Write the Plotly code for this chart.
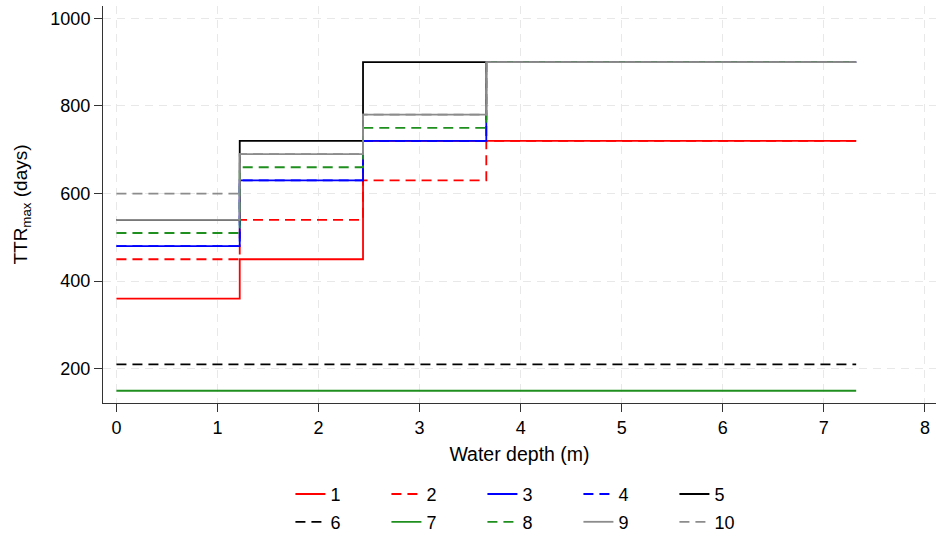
import plotly.graph_objects as go

depth = [0, 1.22, 2.44, 3.66, 7.32]
names = ["1", "2", "3", "4", "5", "6", "7", "8", "9", "10"]
s1 = [360, 450, 720, 720, 720]
s2 = [450, 540, 630, 720, 720]
s3 = [480, 630, 720, 900, 900]
s4 = [480, 630, 720, 900, 900]
s5 = [540, 720, 900, 900, 900]
s6 = [210, 210, 210, 210, 210]
s7 = [150, 150, 150, 150, 150]
s8 = [510, 660, 750, 900, 900]
s9 = [540, 690, 780, 900, 900]
s10 = [600, 690, 780, 900, 900]
series = [s1, s2, s3, s4, s5, s6, s7, s8, s9, s10]

colors = ["#ff0000", "#ff0000", "#0000ff", "#0000ff", "#000000",
          "#000000", "#1f8f1f", "#1f8f1f", "#8c8c8c", "#8c8c8c"]
dashes = ["solid", "10px,6px", "solid", "10px,6px", "solid",
          "10px,6px", "solid", "10px,6px", "solid", "10px,6px"]

fig = go.Figure()
for i, (nm, ys) in enumerate(zip(names, series)):
    fig.add_trace(go.Scatter(
        x=depth, y=ys, mode="lines", name=nm,
        line=dict(color=colors[i], dash=dashes[i], width=1.8, shape="hv"),
        legend="legend" if i < 5 else "legend2",
    ))

font = "Liberation Sans, Arial, sans-serif"
grid = dict(showgrid=True, gridcolor="#e8e8e8", gridwidth=1, griddash="8px,6px",
            zeroline=False, showline=True, linecolor="#333333", linewidth=1,
            ticks="outside", ticklen=8, tickcolor="#333333",
            tickfont=dict(family=font, size=18, color="#000"))

fig.update_layout(
    width=936, height=539,
    margin=dict(l=103, r=0, t=6, b=136, autoexpand=False),
    plot_bgcolor="white", paper_bgcolor="white",
    font=dict(family=font, size=18, color="#000"),
    xaxis=dict(range=[-0.133, 8.11], tickvals=[0, 1, 2, 3, 4, 5, 6, 7, 8],
               title=dict(text="Water depth (m)", font=dict(size=19.5), standoff=10), **grid),
    yaxis=dict(range=[122, 1028], tickvals=[200, 400, 600, 800, 1000],
               title=dict(text="TTR<sub>max</sub> (days)", font=dict(size=19), standoff=17), **grid),
    legend=dict(orientation="h", x=0.225, xanchor="left", y=-0.23, yanchor="middle",
                entrywidth=51, entrywidthmode="pixels",
                font=dict(family=font, size=18), bgcolor="rgba(0,0,0,0)"),
    legend2=dict(orientation="h", x=0.225, xanchor="left", y=-0.30, yanchor="middle",
                 entrywidth=51, entrywidthmode="pixels",
                 font=dict(family=font, size=18), bgcolor="rgba(0,0,0,0)"),
)

fig.write_html("out.html", config={"displayModeBar": False},
               post_script="document.body.style.margin='0';")
